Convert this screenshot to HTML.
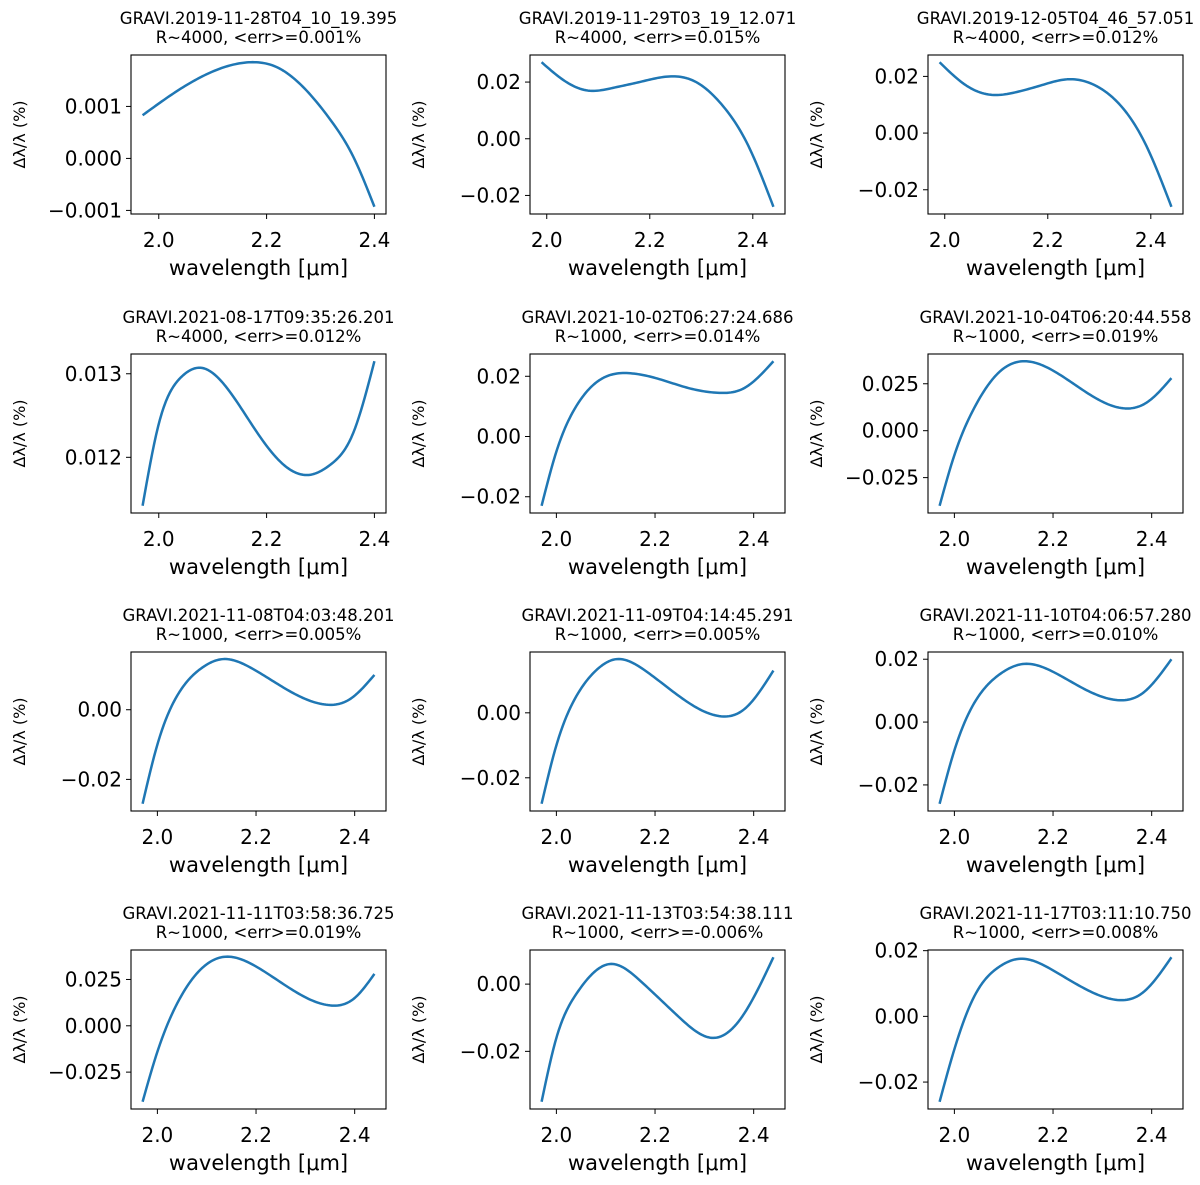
<!DOCTYPE html>
<html><head><meta charset="utf-8"><style>
html,body{margin:0;padding:0;background:#fff;}
svg{display:block;font-family:"DejaVu Sans","Liberation Sans",sans-serif;}
</style></head><body>
<svg id="fig" width="1200" height="1185" viewBox="0 0 1200 1185" xmlns="http://www.w3.org/2000/svg"></svg>
<script>
const titles = ["GRAVI.2019-11-28T04_10_19.395","GRAVI.2019-11-29T03_19_12.071","GRAVI.2019-12-05T04_46_57.051","GRAVI.2021-08-17T09:35:26.201","GRAVI.2021-10-02T06:27:24.686","GRAVI.2021-10-04T06:20:44.558","GRAVI.2021-11-08T04:03:48.201","GRAVI.2021-11-09T04:14:45.291","GRAVI.2021-11-10T04:06:57.280","GRAVI.2021-11-11T03:58:36.725","GRAVI.2021-11-13T03:54:38.111","GRAVI.2021-11-17T03:11:10.750"];
const subtitles = ["R~4000, <err>=0.001%","R~4000, <err>=0.015%","R~4000, <err>=0.012%","R~4000, <err>=0.012%","R~1000, <err>=0.014%","R~1000, <err>=0.019%","R~1000, <err>=0.005%","R~1000, <err>=0.005%","R~1000, <err>=0.010%","R~1000, <err>=0.019%","R~1000, <err>=-0.006%","R~1000, <err>=0.008%"];
const xs = [
 [1.97,2.02,2.07,2.12,2.17,2.22,2.27,2.32,2.36,2.40],
 [1.99,2.03,2.08,2.13,2.18,2.24,2.29,2.34,2.39,2.44],
 [1.99,2.04,2.09,2.14,2.19,2.24,2.29,2.34,2.39,2.44],
 [1.97,2.00,2.04,2.08,2.13,2.18,2.23,2.28,2.32,2.36,2.40],
 [1.97,2.00,2.04,2.09,2.15,2.21,2.27,2.33,2.38,2.44],
 [1.97,2.00,2.04,2.09,2.14,2.20,2.27,2.34,2.39,2.44],
 [1.97,2.00,2.04,2.09,2.13,2.19,2.26,2.34,2.39,2.44],
 [1.97,2.00,2.04,2.08,2.12,2.18,2.25,2.33,2.38,2.44],
 [1.97,2.00,2.04,2.09,2.14,2.20,2.27,2.33,2.38,2.44],
 [1.97,2.00,2.04,2.09,2.13,2.20,2.27,2.35,2.40,2.44],
 [1.97,2.00,2.04,2.08,2.11,2.17,2.25,2.32,2.37,2.44],
 [1.97,2.00,2.04,2.09,2.13,2.20,2.27,2.33,2.38,2.44]
];
const ys = [
 [0.00083,0.00120,0.00152,0.00175,0.00185,0.00175,0.00135,0.00072,0.00005,-0.00093],
 [0.027,0.021,0.017,0.018,0.020,0.022,0.020,0.012,-0.002,-0.024],
 [0.025,0.017,0.0135,0.0145,0.017,0.019,0.017,0.010,-0.004,-0.026],
 [0.01142,0.01240,0.01295,0.01307,0.01280,0.01232,0.01192,0.01179,0.01192,0.01228,0.01315],
 [-0.023,-0.005,0.010,0.019,0.021,0.019,0.016,0.0145,0.016,0.025],
 [-0.040,-0.013,0.012,0.031,0.037,0.032,0.020,0.012,0.015,0.028],
 [-0.027,-0.010,0.004,0.012,0.0145,0.012,0.006,0.0015,0.003,0.010],
 [-0.028,-0.010,0.005,0.013,0.0165,0.013,0.005,-0.001,0.001,0.013],
 [-0.026,-0.009,0.006,0.015,0.0185,0.016,0.010,0.007,0.009,0.020],
 [-0.041,-0.014,0.012,0.031,0.037,0.032,0.020,0.011,0.015,0.028],
 [-0.035,-0.016,-0.003,0.004,0.006,0.001,-0.010,-0.016,-0.011,0.008],
 [-0.026,-0.010,0.006,0.015,0.0175,0.014,0.008,0.005,0.007,0.018]
];
const yticks = [
 [-0.001,0,0.001],[-0.02,0,0.02],[-0.02,0,0.02],[0.012,0.013],
 [-0.02,0,0.02],[-0.025,0,0.025],[-0.02,0],[-0.02,0],[-0.02,0,0.02],
 [-0.025,0,0.025],[-0.02,0],[-0.02,0,0.02]
];
const ytickLabels = [
 ["\u22120.001","0.000","0.001"],["\u22120.02","0.00","0.02"],["\u22120.02","0.00","0.02"],["0.012","0.013"],
 ["\u22120.02","0.00","0.02"],["\u22120.025","0.000","0.025"],["\u22120.02","0.00"],["\u22120.02","0.00"],["\u22120.02","0.00","0.02"],
 ["\u22120.025","0.000","0.025"],["\u22120.02","0.00"],["\u22120.02","0.00","0.02"]
];
const xticks = [2.0,2.2,2.4];
const xtickLabels = ["2.0","2.2","2.4"];

const NS="http://www.w3.org/2000/svg";
const svg=document.getElementById('fig');
function mk(tag,attrs,parent){const e=document.createElementNS(NS,tag);for(const k in attrs)e.setAttribute(k,attrs[k]);(parent||svg).appendChild(e);return e;}
function spline(x,y){
  const n=x.length, h=[], a=[], l=[1], mu=[0], z=[0], c=new Array(n).fill(0), b=[], d=[];
  for(let i=0;i<n-1;i++)h.push(x[i+1]-x[i]);
  for(let i=1;i<n-1;i++)a[i]=3/h[i]*(y[i+1]-y[i])-3/h[i-1]*(y[i]-y[i-1]);
  for(let i=1;i<n-1;i++){l[i]=2*(x[i+1]-x[i-1])-h[i-1]*mu[i-1];mu[i]=h[i]/l[i];z[i]=(a[i]-h[i-1]*z[i-1])/l[i];}
  for(let j=n-2;j>=0;j--){c[j]=z[j]-mu[j]*c[j+1];b[j]=(y[j+1]-y[j])/h[j]-h[j]*(c[j+1]+2*c[j])/3;d[j]=(c[j+1]-c[j])/(3*h[j]);}
  return t=>{let j=0;while(j<n-2&&t>x[j+1])j++;const dx=t-x[j];return y[j]+b[j]*dx+c[j]*dx*dx+d[j]*dx*dx*dx;};
}
const colL=[131,530,928], rowT=[55,354,652,950], W=255, H=159;
for(let i=0;i<12;i++){
  const L=colL[i%3], T=rowT[Math.floor(i/3)];
  const g=mk('g',{});
  
  
  const xd=xs[i], yd=ys[i];
  const xmin=Math.min(...xd), xmax=Math.max(...xd), ymin=Math.min(...yd), ymax=Math.max(...yd);
  const x0=xmin-(xmax-xmin)*0.05, x1=xmax+(xmax-xmin)*0.05;
  const y0=ymin-(ymax-ymin)*0.05, y1=ymax+(ymax-ymin)*0.05;
  const sx=v=>L+(v-x0)/(x1-x0)*W;
  const sy=v=>T+H-(v-y0)/(y1-y0)*H;
  const f=spline(xd,yd);
  let d='';
  const N=120;
  for(let k=0;k<=N;k++){const t=xmin+(xmax-xmin)*k/N;d+=(k?' L':'M')+sx(t).toFixed(2)+','+sy(f(t)).toFixed(2);}
  const line=mk('path',{d:d,fill:'none',stroke:'#1f77b4','stroke-width':2.5,'stroke-linejoin':'round'},g);
  
  
  const fr=mk('rect',{x:L,y:T,width:W,height:H,fill:'none',stroke:'#000','stroke-width':1.1},g);
  
  
  xticks.forEach((t,k)=>{
    const x=sx(t);
    mk('line',{x1:x,y1:T+H,x2:x,y2:T+H+5,stroke:'#000','stroke-width':1},g);
    const tx=mk('text',{x:x,y:T+H+33,'font-size':20,'text-anchor':'middle'},g);
    tx.textContent=xtickLabels[k];
    
    
  });
  yticks[i].forEach((t,k)=>{
    const y=sy(t);
    mk('line',{x1:L-5,y1:y,x2:L,y2:y,stroke:'#000','stroke-width':1},g);
    const tx=mk('text',{x:L-9,y:y+7,'font-size':20,'text-anchor':'end'},g);
    tx.textContent=ytickLabels[i][k];
    
    
  });
  const xl=mk('text',{x:L+W/2,y:T+H+61,'font-size':21,'text-anchor':'middle'},g);
  xl.textContent='wavelength [\u03bcm]';
  
  
  const yl=mk('text',{x:0,y:0,'font-size':16,'text-anchor':'middle',transform:'translate('+(L-106)+','+(T+H/2)+') rotate(-90)'},g);
  yl.textContent='\u0394\u03bb/\u03bb (%)';
  
  
  const t1=mk('text',{x:L+W/2,y:T-31,'font-size':16.5,'text-anchor':'middle'},g);
  t1.textContent=titles[i];
  
  
  const t2=mk('text',{x:L+W/2,y:T-12,'font-size':16.5,'text-anchor':'middle'},g);
  t2.textContent=subtitles[i];
  
  
}
</script>
</body></html>
